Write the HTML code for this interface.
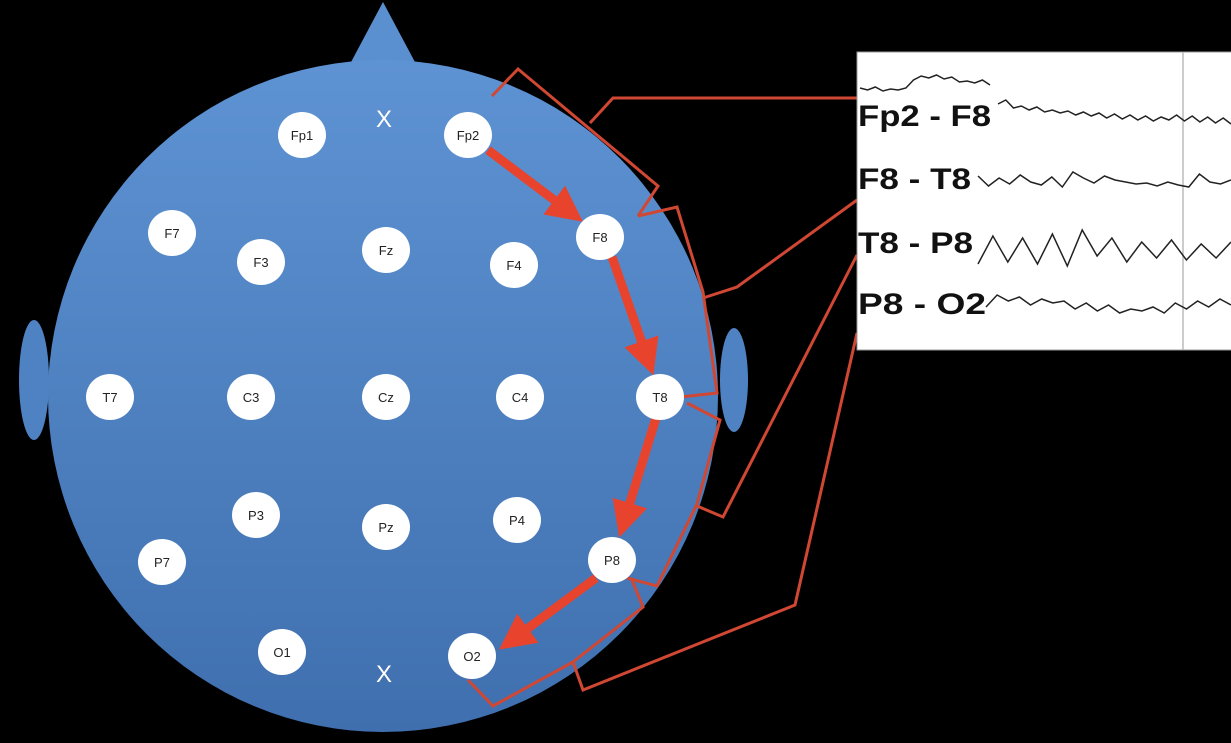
<!DOCTYPE html>
<html><head><meta charset="utf-8">
<style>
html,body{margin:0;padding:0;background:#000;width:1231px;height:743px;overflow:hidden}
svg{display:block}
.lbl{font-family:"Liberation Sans",sans-serif;font-weight:bold;font-size:30px;fill:#111}
.el{font-family:"Liberation Sans",sans-serif;font-size:13px;fill:#222;text-anchor:middle}
</style></head><body>
<svg id="chart" width="1231" height="743" viewBox="0 0 1231 743">
<defs>
<linearGradient id="hg" x1="0" y1="0" x2="0" y2="1">
<stop offset="0" stop-color="#5e93d3"/><stop offset="1" stop-color="#3f6fae"/>
</linearGradient>
<marker id="ah" markerWidth="4" markerHeight="4" refX="2.2" refY="2" orient="auto"><path d="M0,0 L4,2 L0,4 z" fill="#e8442d"/></marker>
</defs>
<g>
<polygon points="383,2 350,64 416,64" fill="#5a8fd0"/>
<ellipse cx="34" cy="380" rx="15" ry="60" fill="#4f82c2"/>
<ellipse cx="734" cy="380" rx="14" ry="52" fill="#4f82c2"/>
<ellipse cx="383" cy="396" rx="335" ry="336" fill="url(#hg)"/>
</g>
<g id="brackets" fill="none" stroke="#d04733" stroke-width="3" stroke-linejoin="miter">
<polyline points="492,96 518,69 658,186 638,216"/>
<polyline points="590,123 613,98 857,98"/>
<polyline points="638,216 677,207 703,292 717,393 680,397"/>
<polyline points="703,298 737,287 857,200"/>
<polyline points="687,403 720,420 697,504 657,586 627,578"/>
<polyline points="697,506 723,517 857,255"/>
<polyline points="632,580 643,607 573,662 493,706 468,680"/>
<polyline points="573,662 583,690 795,605 857,333"/>
</g>
<g id="arrows" stroke="#e8442d" stroke-width="9" fill="none">
<line x1="488" y1="150" x2="570" y2="212" marker-end="url(#ah)"/>
<line x1="612" y1="257" x2="648" y2="360" marker-end="url(#ah)"/>
<line x1="656" y1="418" x2="624" y2="522" marker-end="url(#ah)"/>
<line x1="596" y1="578" x2="512" y2="640" marker-end="url(#ah)"/>
</g>
<g id="electrodes"></g>
<g>
<rect x="857" y="52" width="376" height="298" fill="#fff" stroke="#999" stroke-width="1"/>
<line x1="1183" y1="52" x2="1183" y2="350" stroke="#bbb" stroke-width="1.5"/>
<text class="lbl" x="858" y="126" textLength="133" lengthAdjust="spacingAndGlyphs">Fp2 - F8</text>
<text class="lbl" x="858" y="189" textLength="113" lengthAdjust="spacingAndGlyphs">F8 - T8</text>
<text class="lbl" x="858" y="253" textLength="115" lengthAdjust="spacingAndGlyphs">T8 - P8</text>
<text class="lbl" x="858" y="314" textLength="128" lengthAdjust="spacingAndGlyphs">P8 - O2</text>
<g id="traces" fill="none" stroke="#222" stroke-width="1.5"></g>
</g>
</svg>
<script>
const electrodeNames=["Fp1","X","Fp2","F7","F3","Fz","F4","F8","T7","C3","Cz","C4","T8","P3","Pz","P4","P7","P8","O1","X","O2"];
const electrodeX=[302,384,468,172,261,386,514,600,110,251,386,520,660,256,386,517,162,612,282,384,472];
const electrodeY=[135,118,135,233,262,250,265,237,397,397,397,397,397,515,527,520,562,560,652,673,656];
const traceTop=[0,2,-1,3,1,2,0,-8,-12,-10,-13,-9,-11,-6,-7,-5,-8,-3];
const traceFp2F8=[-6,-10,-2,-4,0,-3,2,0,3,1,5,2,6,3,8,4,9,5,10,6,11,7,10,5,11,6,12,7,13,8,14];
const traceF8T8=[-4,6,-2,4,-5,2,5,-3,7,-8,-2,3,-4,0,2,4,3,6,2,5,7,-6,2,4,0];
const traceT8P8=[16,-12,14,-10,16,-14,18,-18,8,-10,14,-6,10,-8,12,-4,10,-6];
const traceP8O2=[2,-10,-4,-8,0,-6,-2,-4,4,-2,6,0,8,4,6,2,8,-2,4,-4,2,-6,0];
const eg=document.getElementById('electrodes');
const NS='http://www.w3.org/2000/svg';
for(let i=0;i<electrodeNames.length;i++){
  const n=electrodeNames[i];
  if(n==='X'){
    const t=document.createElementNS(NS,'text');
    t.setAttribute('x',electrodeX[i]);t.setAttribute('y',electrodeY[i]+9);
    t.setAttribute('text-anchor','middle');t.setAttribute('fill','#fff');
    t.setAttribute('font-family','Liberation Sans, sans-serif');t.setAttribute('font-size','24');
    t.textContent='X';
    
    
    eg.appendChild(t);continue;
  }
  const g=document.createElementNS(NS,'g');
  
  
  const c=document.createElementNS(NS,'ellipse');
  c.setAttribute('cx',electrodeX[i]);c.setAttribute('cy',electrodeY[i]);
  c.setAttribute('rx',24);c.setAttribute('ry',23);c.setAttribute('fill','#fff');
  
  
  const t=document.createElementNS(NS,'text');
  t.setAttribute('class','el');t.setAttribute('x',electrodeX[i]);t.setAttribute('y',electrodeY[i]+5);
  t.textContent=n;
  
  
  g.appendChild(c);g.appendChild(t);eg.appendChild(g);
}
const tg=document.getElementById('traces');
function trace(vals,x0,x1,yBase,name){
  const step=(x1-x0)/(vals.length-1);
  const pts=vals.map((v,i)=>(x0+i*step).toFixed(1)+','+(yBase+v)).join(' ');
  const p=document.createElementNS(NS,'polyline');
  p.setAttribute('points',pts);
  
  
  tg.appendChild(p);
}
trace(traceTop,860,990,88,'trace-fragment-top');
trace(traceFp2F8,998,1231,110,'trace-fp2-f8');
trace(traceF8T8,978,1231,180,'trace-f8-t8');
trace(traceT8P8,978,1231,248,'trace-t8-p8');
trace(traceP8O2,986,1231,305,'trace-p8-o2');
</script>
</body></html>
